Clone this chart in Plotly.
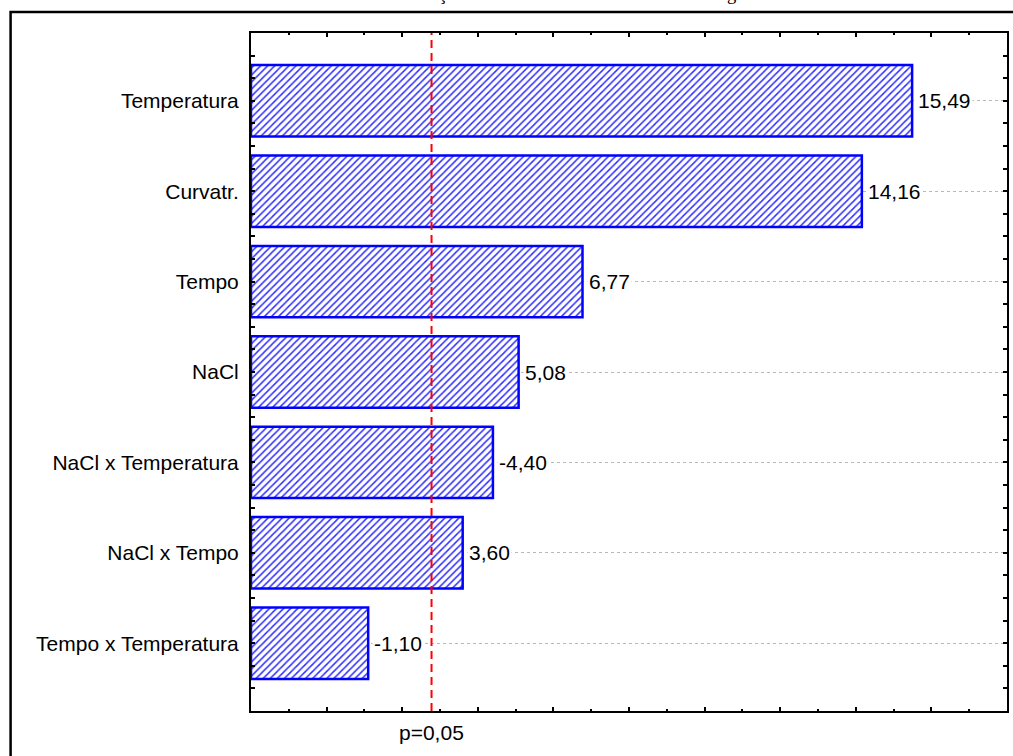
import plotly.graph_objects as go

# Pareto chart of standardized effects
effects = ["Temperatura", "Curvatr.", "Tempo", "NaCl",
           "NaCl x Temperatura", "NaCl x Tempo", "Tempo x Temperatura"]
t_values = [15.49, 14.16, 6.77, 5.08, -4.40, 3.60, -1.10]
t_critical = 2.776          # p = 0,05 reference line
axis_min, axis_max = -2, 18
chart_title = "Absorção de NaCl na Amostra Tratada em mg"

BLUE = "#0000FF"
FONT = "Liberation Sans"

positions = list(range(len(effects)))
magnitudes = [abs(v) for v in t_values]

fig = go.Figure()
fig.add_trace(go.Bar(
    y=positions,
    x=[m - axis_min for m in magnitudes],
    base=axis_min,
    orientation="h",
    width=0.79,
    marker=dict(
        color="white",
        line=dict(color=BLUE, width=2.5),
        pattern=dict(shape="/", fgcolor="#3030FF", bgcolor="white",
                     fillmode="replace", size=5, solidity=0.3),
    ),
    hoverinfo="skip",
    showlegend=False,
))

# value labels next to each bar
for pos, val, mag in zip(positions, t_values, magnitudes):
    fig.add_annotation(
        x=mag, y=pos, xref="x", yref="y",
        text=f"{val:.2f}".replace(".", ","),
        xanchor="left", yanchor="middle", xshift=4,
        showarrow=False, bgcolor="white", borderpad=1,
        font=dict(family=FONT, size=21, color="black"),
    )

# significance line and its label
fig.add_shape(type="line", xref="x", yref="paper",
              x0=t_critical, x1=t_critical, y0=0, y1=1,
              line=dict(color="#FF0000", width=2, dash="8px,5px"),
              layer="above")
fig.add_annotation(x=t_critical, y=-0.0324, xref="x", yref="paper",
                   text="p=0,05", showarrow=False,
                   xanchor="center", yanchor="middle",
                   font=dict(family=FONT, size=21, color="black"))

# title sits mostly above the page edge
fig.add_annotation(x=0.1847, y=1.0398, xref="paper", yref="paper",
                   text=chart_title, showarrow=False,
                   xanchor="left", yanchor="bottom",
                   font=dict(family="Liberation Serif", size=18.6, color="black"))

# outer frame around the whole graph
fig.add_shape(type="rect", xref="paper", yref="paper",
              x0=-0.318, x1=1.1, y0=-0.087, y1=1.031,
              line=dict(color="black", width=2.5), fillcolor="rgba(0,0,0,0)",
              layer="above")

fig.update_xaxes(
    range=[axis_min, axis_max], tick0=0, dtick=2,
    ticks="inside", ticklen=4, tickwidth=1.5, tickcolor="black",
    showticklabels=False, showline=True, linecolor="black", linewidth=2,
    mirror="ticks", showgrid=False, zeroline=False,
    minor=dict(dtick=1, ticks="inside", ticklen=2, tickwidth=1.5,
               tickcolor="black", showgrid=False),
)
fig.update_yaxes(
    range=[len(effects) - 0.25, -0.75],
    tickmode="array", tickvals=positions, ticktext=effects,
    ticks="inside", ticklen=4, tickwidth=1.5, tickcolor="black",
    tickfont=dict(family=FONT, size=21, color="black"),
    showline=True, linecolor="black", linewidth=2, mirror="ticks",
    showgrid=True, gridcolor="#b8b8b8", griddash="dot", gridwidth=1,
    zeroline=False, ticklabelstandoff=6,
    minor=dict(dtick=0.25, tick0=0, ticks="inside", ticklen=4, tickwidth=1.5,
               tickcolor="black", showgrid=False),
)

fig.update_layout(
    width=1013, height=756,
    margin=dict(l=251, r=4, t=33, b=45),
    paper_bgcolor="white", plot_bgcolor="white",
    bargap=0.2,
)

fig.write_html("out.html")
